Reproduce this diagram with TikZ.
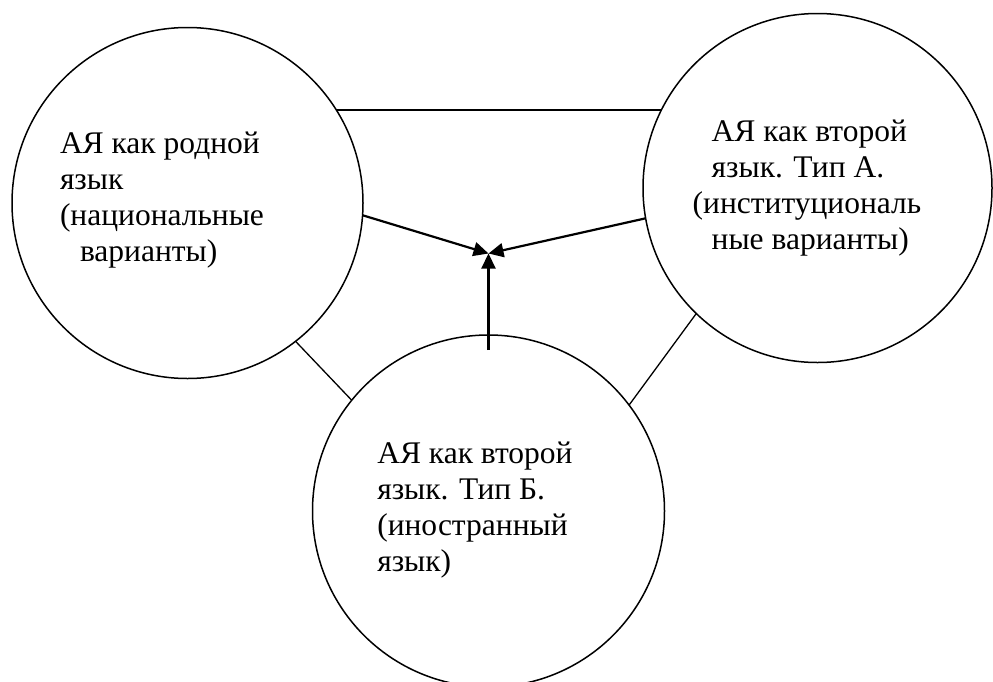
\documentclass[tikz,border=0pt]{standalone}
\usepackage{fontspec}
\setmainfont{Liberation Serif}
\usetikzlibrary{arrows.meta}
\tikzset{
  ring/.style={circle, draw, line width=1.5pt, minimum size=352pt, inner sep=0pt, outer sep=0pt},
  link/.style={line width=1.3pt},
  flow/.style={line width=2.2pt, -{Triangle[length=15pt,width=14pt]}},
  txt/.style={anchor=base west, inner sep=0pt, outer sep=0pt, font=\rmfamily\fontsize{31.5pt}{36pt}\selectfont}
}
\begin{document}
\begin{tikzpicture}[x=1pt, y=-1pt]
\useasboundingbox (0,0) rectangle (993,681);
\clip (0,0) rectangle (993,681);
\node[ring, minimum size=351pt] (L) at (187.5,203) {};
\node[ring, minimum size=349pt] (R) at (817.5,188) {};
\node[ring] (B) at (488.5,511) {};
\coordinate (hub) at (488.5,253.5);

\node[txt] (Lt) at (60,153.3) {\vtop{\baselineskip=36pt\hbox{АЯ как родной}\hbox{язык}\hbox{(национальные}\hbox{\hspace*{20pt}варианты)}}};
\node[txt] (Rt) at (692.7,141.7) {\vtop{\baselineskip=36pt\hbox{\hspace*{19pt}АЯ как второй}\hbox{\hspace*{19pt}язык. Тип А.}\hbox{(институциональ}\hbox{\hspace*{19pt}ные варианты)}}};
\node[txt] (Bt) at (377.3,463.3) {\vtop{\baselineskip=36pt\hbox{АЯ как второй}\hbox{язык. Тип Б.}\hbox{(иностранный}\hbox{язык)}}};

\draw[link] (L.32) -- (L.32 -| R.153.45);
\draw[link] (L.308.86) -- (B.141.8);
\draw[link] (R.226.74) -- (B.37.8);

\draw[flow] (L.-4.65) -- (hub);
\draw[flow] (R.190.28) -- (hub);
\draw[flow] ([yshift=-15pt]B.north) -- (hub);
\end{tikzpicture}
\end{document}
